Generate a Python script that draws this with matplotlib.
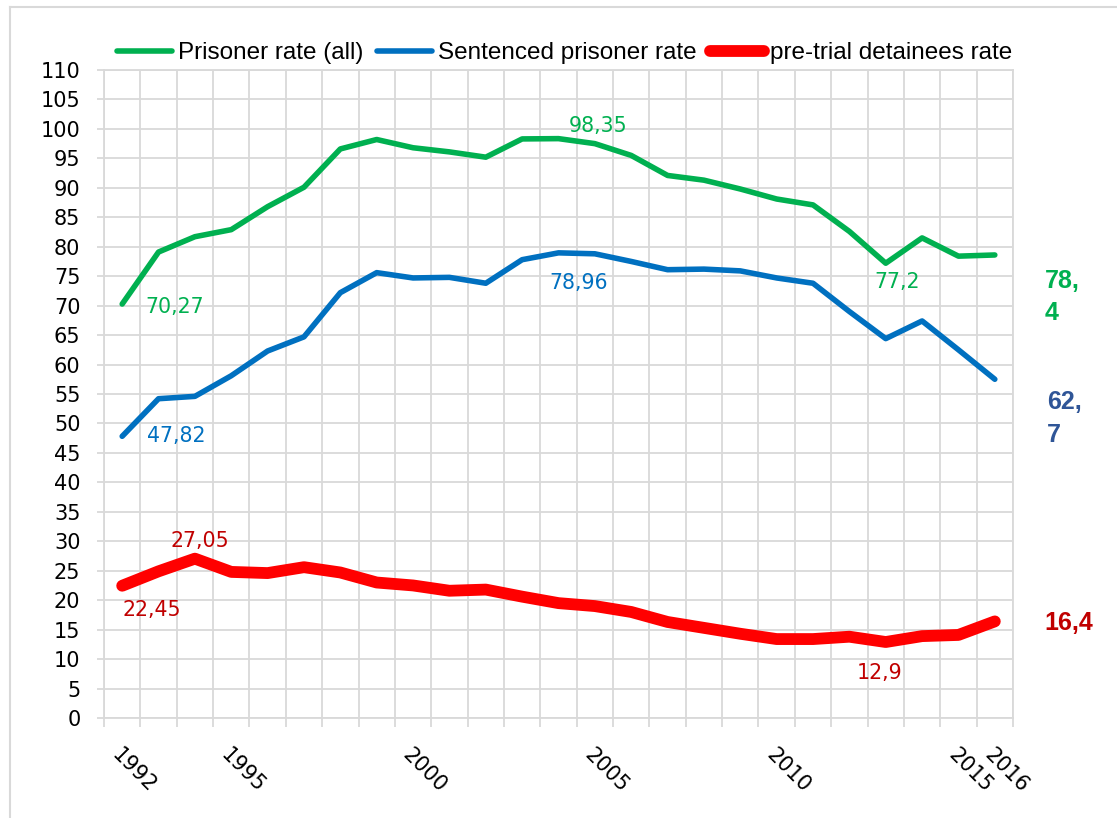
import numpy as np
import matplotlib
matplotlib.use("Agg")
import matplotlib.pyplot as plt
from matplotlib.lines import Line2D
from matplotlib.transforms import ScaledTranslation

# ============================================================
# Data
# ============================================================
years = list(range(1992, 2017))
shown_years = [1992, 1995, 2000, 2005, 2010, 2015, 2016]

prisoner_rate = [70.27, 79.1, 81.7, 82.9, 86.8, 90.1, 96.6, 98.2, 96.8, 96.1,
                 95.2, 98.3, 98.35, 97.5, 95.5, 92.1, 91.3, 89.8, 88.1, 87.1,
                 82.6, 77.2, 81.5, 78.4, 78.6]
sentenced_rate = [47.82, 54.2, 54.6, 58.1, 62.3, 64.7, 72.2, 75.6, 74.7, 74.8,
                  73.8, 77.8, 78.96, 78.8, 77.5, 76.1, 76.2, 75.9, 74.7, 73.8,
                  69.0, 64.4, 67.4, 62.5, 57.5]
pretrial_rate = [22.45, 24.9, 27.05, 24.8, 24.6, 25.6, 24.7, 23.0, 22.5, 21.6,
                 21.8, 20.6, 19.5, 19.0, 18.0, 16.3, 15.3, 14.3, 13.4, 13.4,
                 13.8, 12.9, 13.9, 14.1, 16.4]

series_names = ["Prisoner rate (all)", "Sentenced prisoner rate", "pre-trial detainees rate"]

# point labels: (series index, year, text)
point_labels = [
    (0, 1992, "70,27"), (0, 2004, "98,35"), (0, 2013, "77,2"),
    (1, 1992, "47,82"), (1, 2004, "78,96"),
    (2, 1992, "22,45"), (2, 1994, "27,05"), (2, 2013, "12,9"),
]
end_labels = ["78,\n4", "62,\n7", "16,4"]

# ============================================================
# Styling
# ============================================================
W, H = 1117, 818
GRID = "#D9D9D9"
line_colors = ["#00B050", "#0070C0", "#FF0000"]
line_widths = [4.0, 4.0, 8.5]
label_colors = ["#00B050", "#0070C0", "#C00000"]
end_colors = ["#00B050", "#2F5597", "#C00000"]
# offsets in pixels (dx, dy) for each point label
label_offsets = [(53, -3), (40, 13), (11, -19),
                 (54, 0), (20, -30),
                 (30, -24), (5, 18), (-6, -31)]
end_offsets = [(50, -42), (52, -39), (50, -2)]

fig = plt.figure(figsize=(W / 100, H / 100), dpi=100)
ax = fig.add_axes([104 / W, 1 - 718 / H, (1013 - 104) / W, (718 - 70) / H])

x = np.arange(len(years))
all_series = [prisoner_rate, sentenced_rate, pretrial_rate]
handles = []
for vals, c, lw, name in zip(all_series, line_colors, line_widths, series_names):
    ln, = ax.plot(x, vals, color=c, lw=lw, solid_capstyle="round",
                  solid_joinstyle="round", label=name, zorder=3)
    handles.append(ln)

px = 0.72  # pixels -> points
for (si, yr, txt), (dx, dy) in zip(point_labels, label_offsets):
    i = years.index(yr)
    ax.annotate(txt, (x[i], all_series[si][i]), xytext=(dx * px, dy * px),
                textcoords="offset points", ha="center", va="center",
                fontsize=14.8, color=label_colors[si], zorder=4)

for si, (txt, (dx, dy)) in enumerate(zip(end_labels, end_offsets)):
    ax.annotate(txt, (x[-1], all_series[si][-1]), xytext=(dx * px, dy * px),
                textcoords="offset points", ha="left", va="center",
                fontsize=18, fontweight="bold", color=end_colors[si],
                family=["Liberation Sans", "DejaVu Sans"], linespacing=1.45,
                annotation_clip=False)

# axes
ax.set_xlim(-0.5, len(years) - 0.5)
ax.set_ylim(0, 110)
ax.set_yticks(np.arange(0, 111, 5))
ax.set_xticks([years.index(y) for y in shown_years])
ax.set_xticklabels([str(y) for y in shown_years], rotation=-45, ha="left",
                   va="top", rotation_mode="anchor")
ax.set_xticks(np.arange(-0.5, len(years), 1), minor=True)
shift = ScaledTranslation(5 / 100, 0, fig.dpi_scale_trans)
for lbl in ax.get_xticklabels():
    lbl.set_transform(lbl.get_transform() + shift)

ax.tick_params(axis="x", which="major", length=0, pad=19, labelsize=15)
ax.tick_params(axis="x", which="minor", length=6.5, width=1.3, color=GRID)
ax.tick_params(axis="y", which="major", length=5, width=1.3, color=GRID,
               pad=12, labelsize=15)

ax.set_axisbelow(True)
ax.grid(which="minor", axis="x", color=GRID, lw=1.3)
ax.grid(which="major", axis="y", color=GRID, lw=1.3)
for sp in ax.spines.values():
    sp.set_color(GRID)
    sp.set_linewidth(1.3)

ax.legend(handles=handles, loc="center", bbox_to_anchor=(565 / W, 1 - 53 / H),
          bbox_transform=fig.transFigure, ncol=3, frameon=False,
          handlelength=2.25, handletextpad=0.25, columnspacing=0.55,
          prop={"family": ["Liberation Sans", "DejaVu Sans"], "size": 17.5})

# chart area border
fig.add_artist(Line2D([10 / W, 10 / W], [0, 1 - 7 / H], color=GRID, lw=1.5))
fig.add_artist(Line2D([10 / W, 1], [1 - 7 / H, 1 - 7 / H], color=GRID, lw=1.5))

fig.savefig("out.png", dpi=100)
